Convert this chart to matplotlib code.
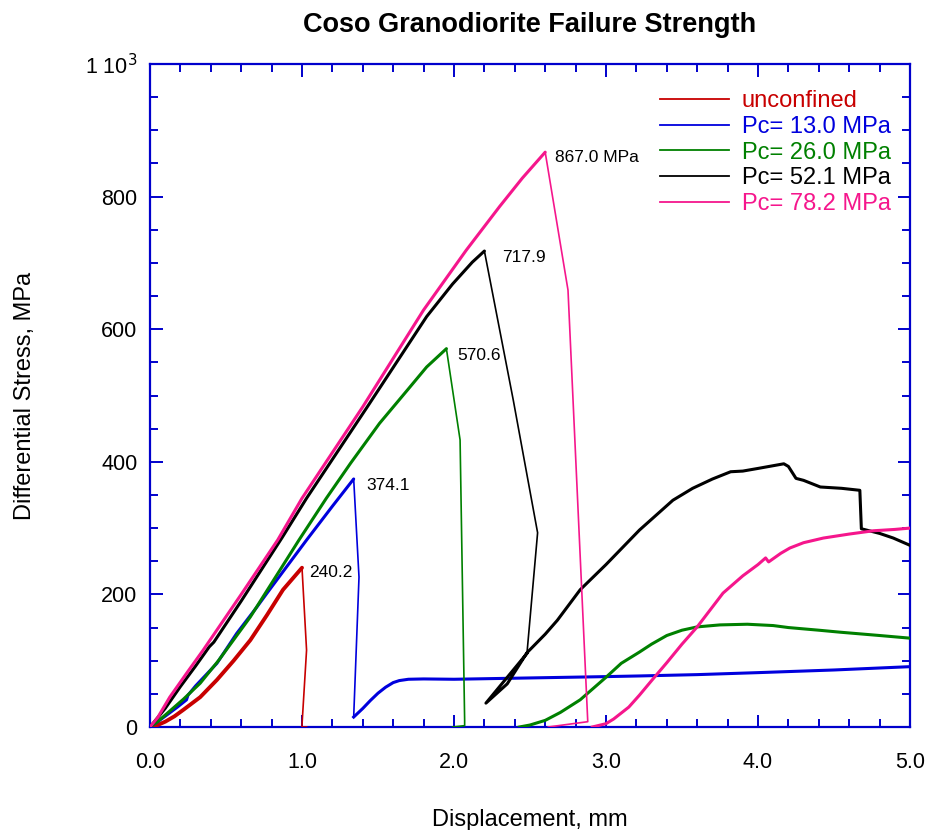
import matplotlib
matplotlib.use('Agg')
import matplotlib.pyplot as plt
from matplotlib.ticker import MultipleLocator, FixedLocator, FixedFormatter

plt.rcParams['font.family'] = ['Liberation Sans', 'DejaVu Sans']

# unconfined
red_load_x = [0.0, 0.05, 0.1, 0.16, 0.22, 0.33, 0.44, 0.55, 0.66, 0.77, 0.875, 1.0]
red_load_y = [0.0, 3, 8, 16, 26, 45, 71, 100, 131, 169, 207, 240.2]
red_drop_x = [1.0, 1.03, 1.0, 1.0, 1.03]
red_drop_y = [240.2, 116, 3, 0, 0]

# Pc = 13.0 MPa
blue_load_x = [0.0, 0.05, 0.11, 0.18, 0.24, 0.25, 0.3, 0.44, 0.57, 0.7, 0.77, 0.9, 1.03, 1.2, 1.34]
blue_load_y = [0.0, 8, 18, 30, 41, 48, 62, 96, 141, 180, 202, 242, 282, 333, 374.1]
blue_drop_x = [1.34, 1.375, 1.34]
blue_drop_y = [374.1, 226, 15]
blue_post_x = [1.34, 1.4, 1.45, 1.5, 1.55, 1.6, 1.64, 1.7, 1.8, 2.0, 2.5, 3.0, 3.22, 3.6, 4.0, 4.5, 5.0]
blue_post_y = [15, 28, 40, 51, 60, 67, 70, 72, 72.5, 72, 74, 76, 77, 79, 82, 86, 91]

# Pc = 26.0 MPa
green_load_x = [0.0, 0.05, 0.12, 0.22, 0.33, 0.45, 0.66, 0.82, 0.98, 1.16, 1.32, 1.51, 1.7, 1.82, 1.95]
green_load_y = [0.0, 8, 22, 42, 66, 100, 166, 224, 282, 345, 398, 458, 510, 543, 570.6]
green_drop_x = [1.95, 2.04, 2.07, 2.07, 1.99]
green_drop_y = [570.6, 433, 10, 2, 0]
green_post_x = [2.43, 2.5, 2.6, 2.7, 2.83, 3.0, 3.1, 3.22, 3.3, 3.4, 3.5, 3.6, 3.75, 3.93, 4.1, 4.2, 4.4, 4.54, 4.8, 5.0]
green_post_y = [0, 3, 10, 22, 41, 75, 96, 113, 125, 138, 146, 151, 154, 155, 153, 150, 146, 143, 138, 134]

# Pc = 52.1 MPa
black_load_x = [0.0, 0.1, 0.2, 0.3, 0.39, 0.42, 0.6, 0.87, 1.03, 1.43, 1.82, 1.99, 2.12, 2.2]
black_load_y = [0.0, 28, 61, 92, 121, 128, 190, 286, 345, 483, 619, 668, 701, 717.9]
black_drop_x = [2.2, 2.39, 2.55, 2.48]
black_drop_y = [717.9, 493, 293, 111]
black_post_x = [2.48, 2.21, 2.35, 2.48, 2.6, 2.68, 2.83, 3.0, 3.22, 3.44, 3.57, 3.7, 3.82, 3.9, 4.0, 4.17,
                4.2, 4.25, 4.3, 4.41, 4.55, 4.67, 4.68, 4.8, 4.89, 5.0]
black_post_y = [111, 36, 65, 112, 140, 161, 207, 245, 297, 342, 360, 374, 385, 386, 390, 397,
                393, 375, 372, 362, 360, 357, 299, 292, 285, 274]

# Pc = 78.2 MPa
pink_load_x = [0.0, 0.05, 0.13, 0.25, 0.35, 0.6, 0.84, 1.0, 1.4, 1.8, 2.08, 2.3, 2.45, 2.6]
pink_load_y = [0.0, 14, 45, 84, 116, 200, 282, 345, 483, 629, 719, 785, 828, 867.0]
pink_drop_x = [2.6, 2.75, 2.88, 2.62]
pink_drop_y = [867.0, 659, 8, 0]
pink_post_x = [2.91, 3.0, 3.05, 3.15, 3.22, 3.3, 3.4, 3.5, 3.6, 3.7, 3.77, 3.9, 4.0, 4.05, 4.07, 4.15, 4.21,
               4.3, 4.43, 4.6, 4.76, 4.9, 5.0]
pink_post_y = [0, 5, 12, 30, 48, 70, 97, 125, 151, 181, 202, 228, 245, 255, 249, 262, 270,
               278, 285, 291, 296, 298, 300]

legend_labels = ['unconfined', 'Pc= 13.0 MPa', 'Pc= 26.0 MPa', 'Pc= 52.1 MPa', 'Pc= 78.2 MPa']
peak_x = [1.0, 1.34, 1.95, 2.2, 2.6]
peak_y = [240.2, 374.1, 570.6, 717.9, 867.0]
peak_labels = ['240.2', '374.1', '570.6', '717.9', '867.0 MPa']

colors = ['#c80000', '#0000dd', '#008000', 'black', '#f5168c']

fig = plt.figure(figsize=(9.3, 8.3), dpi=100)
ax = fig.add_axes([150 / 930, 1 - 727 / 830, 760 / 930, 663 / 830])

series = [
    (red_load_x, red_load_y, red_drop_x, red_drop_y, None, None),
    (blue_load_x, blue_load_y, blue_drop_x, blue_drop_y, blue_post_x, blue_post_y),
    (green_load_x, green_load_y, green_drop_x, green_drop_y, green_post_x, green_post_y),
    (black_load_x, black_load_y, black_drop_x, black_drop_y, black_post_x, black_post_y),
    (pink_load_x, pink_load_y, pink_drop_x, pink_drop_y, pink_post_x, pink_post_y),
]

for i, (lx, ly, dx, dy, px, py) in enumerate(series):
    c = colors[i]
    lw = 2.8 if i == 0 else 2.2
    ax.plot(lx, ly, color=c, lw=lw, solid_capstyle='round', zorder=3 + i)
    ax.plot(dx, dy, color=c, lw=1.2, zorder=3 + i)
    if px is not None:
        ax.plot(px, py, color=c, lw=2.2, zorder=3 + i)
    # legend handle
    ax.plot([], [], color=c, lw=1.3, label=legend_labels[i])

offsets = [(7, -5), (13, -7), (11, -7), (18, -6), (10, -5)]
for i in range(len(peak_x)):
    ax.annotate(peak_labels[i], (peak_x[i], peak_y[i]), xytext=offsets[i],
                textcoords='offset pixels', fontsize=12.5, va='center', ha='left')

ax.set_xlim(0, 5)
ax.set_ylim(0, 1000)
ax.xaxis.set_major_locator(MultipleLocator(1.0))
ax.xaxis.set_minor_locator(MultipleLocator(0.2))
ax.yaxis.set_major_locator(FixedLocator([0, 200, 400, 600, 800, 1000]))
ax.yaxis.set_major_formatter(FixedFormatter(['0', '200', '400', '600', '800', '1 10$^3$']))
ax.yaxis.set_minor_locator(MultipleLocator(50))
ax.xaxis.set_major_formatter(plt.FuncFormatter(lambda v, p: '%.1f' % v))

axcol = '#0000cc'
for s in ax.spines.values():
    s.set_color(axcol)
    s.set_linewidth(1.6)
ax.tick_params(which='both', direction='in', top=True, right=True, color=axcol,
               labelsize=15.5, width=1.4)
ax.tick_params(which='major', length=9)
ax.tick_params(which='minor', length=5.5)
ax.tick_params(axis='x', which='major', pad=18)
ax.tick_params(axis='y', which='major', pad=9)

ax.set_xlabel('Displacement, mm', fontsize=17, labelpad=26)
ax.set_ylabel('Differential Stress, MPa', fontsize=17)
ax.yaxis.set_label_coords(-0.15, 0.5)
ax.set_title('Coso Granodiorite Failure Strength', fontsize=19.5, fontweight='bold', pad=23)

leg = ax.legend(loc='upper right', bbox_to_anchor=(0.987, 0.975), frameon=False,
                fontsize=17, handlelength=2.9, handletextpad=0.55, labelspacing=0.16,
                labelcolor='linecolor', borderaxespad=0)

fig.savefig('out.png', dpi=100)
